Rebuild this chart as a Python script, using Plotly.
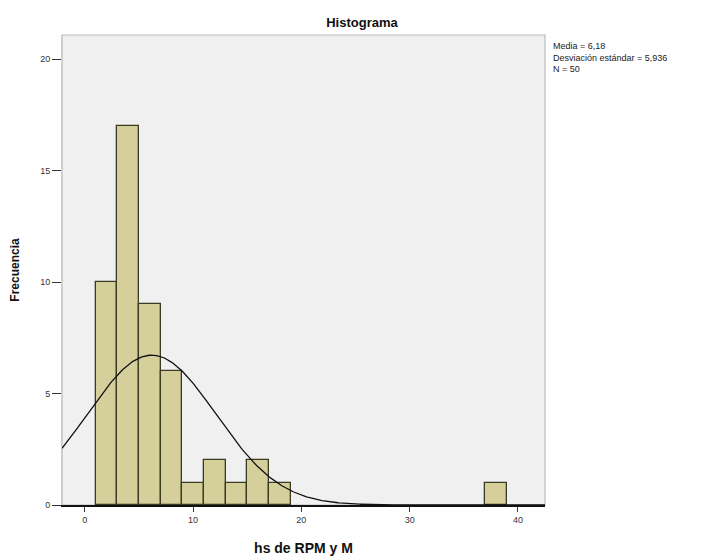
import numpy as np
import plotly.graph_objects as go

# Data
bin_starts = [1, 3, 5, 7, 9, 11, 13, 15, 17, 37]
counts = [10, 17, 9, 6, 1, 2, 1, 2, 1, 1]
bin_width = 2
mean_val = 6.18
sd_val = 5.936
n_val = 50
x_ticks = [0, 10, 20, 30, 40]
y_ticks = [0, 5, 10, 15, 20]

centers = [s + bin_width / 2 for s in bin_starts]

xs = np.linspace(-2.1, 42.5, 400)
ys = n_val * bin_width / (sd_val * np.sqrt(2 * np.pi)) * np.exp(-((xs - mean_val) ** 2) / (2 * sd_val ** 2))

font = "Liberation Sans, Arial, sans-serif"

W, H = 708, 548

fig = go.Figure()
fig.add_trace(go.Bar(
    x=centers, y=counts, width=[bin_width] * len(counts),
    marker=dict(color="#D4CF9B", line=dict(color="#3B3B22", width=1.3)),
    showlegend=False, hoverinfo="x+y"
))
fig.add_trace(go.Scatter(
    x=xs, y=ys, mode="lines",
    line=dict(color="#111111", width=1.3),
    showlegend=False, hoverinfo="skip"
))

fig.update_layout(
    width=W, height=H,
    margin=dict(l=54, r=171, t=27, b=51, autoexpand=False),
    paper_bgcolor="white",
    plot_bgcolor="#F0F0F0",
    bargap=0,
    font=dict(family=font, color="#222222"),
    title=dict(text="<b>Histograma</b>", x=0.5, xref="container", xanchor="center",
               y=1 - 14 / H, yref="container", yanchor="middle", font=dict(size=13, color="#111111"),
               automargin=False),
    xaxis=dict(
        range=[-2.1, 42.5], tickvals=x_ticks, ticktext=[str(v) for v in x_ticks],
        showgrid=False, zeroline=False, showline=True, linecolor="#111111", linewidth=2,
        ticks="outside", ticklen=5, tickcolor="#333333", tickfont=dict(size=9, color="#333333"),
        title=dict(text="<b>hs de RPM y M</b>", font=dict(size=14, color="#111111"), standoff=20),
        automargin=False,
    ),
    yaxis=dict(
        range=[0, 21.08], tickvals=y_ticks, ticktext=[str(v) for v in y_ticks],
        showgrid=False, zeroline=False, showline=True, linecolor="#CCCCCC", linewidth=1,
        ticks="outside", ticklen=9, tickcolor="#333333", tickfont=dict(size=9, color="#333333"),
        title=dict(text="<b>Frecuencia</b>", font=dict(size=12, color="#111111"), standoff=24),
        automargin=False,
    ),
    shapes=[
        dict(type="rect", xref="paper", yref="paper", x0=0, x1=1, y0=0, y1=1,
             line=dict(color="#BBBBBB", width=1.2), fillcolor="rgba(0,0,0,0)", layer="below"),
    ],
    annotations=[
        dict(text=f"Media = {str(mean_val).replace('.', ',')}<br>Desviación estándar = {str(sd_val).replace('.', ',')}<br>N = {n_val}",
             xref="paper", yref="paper", x=1.012, y=0.992, xanchor="left", yanchor="top",
             align="left", showarrow=False, font=dict(size=9, color="#222222")),
    ],
)

fig.write_html("out.html")
